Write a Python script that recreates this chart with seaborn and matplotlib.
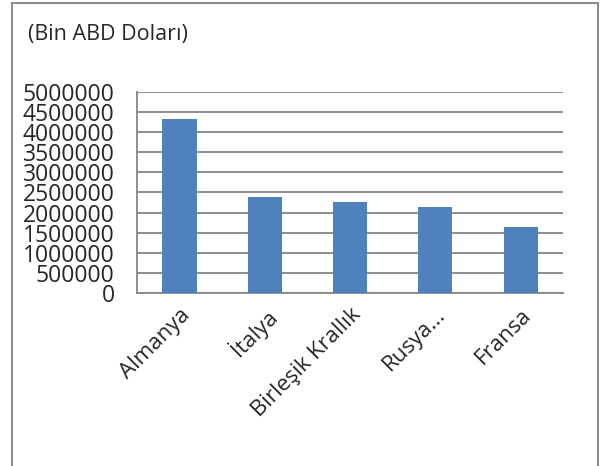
import matplotlib
matplotlib.use("Agg")
import matplotlib.pyplot as plt
from matplotlib.patches import Rectangle
import numpy as np
import pandas as pd
import seaborn as sns

# ihracat degerleri (Bin ABD Dolari)
countries = ["Almanya", "İtalya", "Birleşik Krallık", "Rusya...", "Fransa"]
values = [4330000, 2390000, 2260000, 2150000, 1640000]
y_ticks = list(range(0, 5000001, 500000))

df = pd.DataFrame({"country": countries, "value": values})

sns.set_style("white")
plt.rcParams['font.family'] = ['Open Sans', 'DejaVu Sans']

fig = plt.figure(figsize=(6.03, 4.66), dpi=100)
ax = fig.add_axes([0.227, 0.371, 0.707, 0.432])

sns.barplot(data=df, x="country", y="value", color="#4F81BD", width=0.4,
            saturation=1, linewidth=0, ax=ax, zorder=3)

grid_c = "#868686"
ax.set_ylim(0, 5000000)
ax.set_xlim(-0.5, len(countries) - 0.5)
ax.set_yticks(y_ticks)
ax.set_yticklabels([str(v) for v in y_ticks], fontsize=16.5)
ax.yaxis.grid(True, color=grid_c, linewidth=1.3, zorder=0)
ax.set_axisbelow(True)

ax.set_xticks(range(len(countries)))
ax.set_xticklabels(countries, rotation=45, ha="right", rotation_mode="anchor", fontsize=16)
ax.set_xticks(np.arange(-0.5, len(countries)), minor=True)
ax.tick_params(axis="x", which="major", length=0, pad=8)
ax.tick_params(axis="x", which="minor", length=6, color=grid_c, width=1.3, direction="out")
ax.tick_params(axis="y", length=6, color=grid_c, width=1.3, direction="out", pad=10)

for s in ["top", "right"]:
    ax.spines[s].set_visible(False)
for s in ["left", "bottom"]:
    ax.spines[s].set_color(grid_c)
    ax.spines[s].set_linewidth(1.3)

ax.set_xlabel("")
ax.set_ylabel("")

fig.text(0.046, 0.925, "(Bin ABD Doları)", fontsize=15.5, ha="left", va="center")

fig.patches.append(Rectangle((12 / 603, -0.05), 586 / 603, 1.043,
                             transform=fig.transFigure, fill=False,
                             edgecolor="#8c8c8c", linewidth=1.5))

fig.savefig("out.png", dpi=100)
